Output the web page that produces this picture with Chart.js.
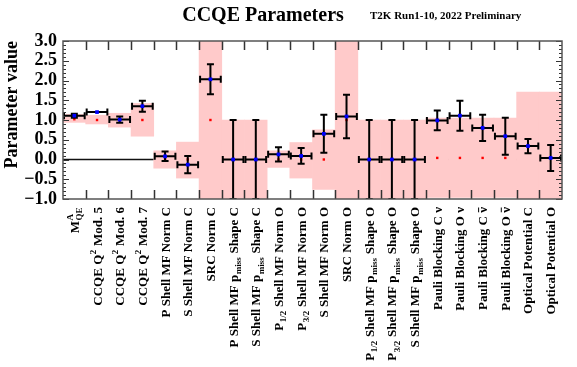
<!DOCTYPE html>
<html>
<head>
<meta charset="utf-8">
<script src="https://cdn.jsdelivr.net/npm/chart.js@4.4.1/dist/chart.umd.min.js"></script>
<style>
  html, body { margin: 0; padding: 0; background: #ffffff; }
  #c { display: block; }
</style>
</head>
<body>
<canvas id="c" width="577" height="367" style="width:577px;height:367px"></canvas>
<script>
// Parameter names (markup: _{..} subscript, ^{..} superscript, #bar{..} overline)
const parameterNames = [
  'M_{QE}^{A}', 'CCQE Q^{2} Mod. 5', 'CCQE Q^{2} Mod. 6', 'CCQE Q^{2} Mod. 7',
  'P Shell MF Norm C', 'S Shell MF Norm C', 'SRC Norm C',
  'P Shell MF p_{miss} Shape C', 'S Shell MF p_{miss} Shape C',
  'P_{1/2} Shell MF Norm O', 'P_{3/2} Shell MF Norm O', 'S Shell MF Norm O', 'SRC Norm O',
  'P_{1/2} Shell MF p_{miss} Shape O', 'P_{3/2} Shell MF p_{miss} Shape O', 'S Shell MF p_{miss} Shape O',
  'Pauli Blocking C ν', 'Pauli Blocking O ν', 'Pauli Blocking C #bar{ν}', 'Pauli Blocking O #bar{ν}',
  'Optical Potential C', 'Optical Potential O'
];

// Post-fit central values and their 1σ errors
const fitValues = [1.11, 1.20, 1.01, 1.35, 0.08, -0.13, 2.03, 0.00, 0.00, 0.13, 0.09, 0.65, 1.09,
                   0.00, 0.00, 0.00, 0.99, 1.11, 0.80, 0.59, 0.34, 0.04];
const fitErrors = [0.05, 0.00, 0.08, 0.14, 0.12, 0.22, 0.38, 1.00, 1.00, 0.18, 0.20, 0.48, 0.55,
                   1.00, 1.00, 1.00, 0.25, 0.38, 0.33, 0.47, 0.18, 0.33];

// Prior nominal values and prior uncertainty band
const priorValues = [1.02, 1.00, 1.00, 1.00, 0.00, 0.00, 1.00, 0.00, 0.00, 0.00, 0.00, 0.00, 1.00,
                     0.00, 0.00, 0.00, 0.04, 0.04, 0.04, 0.04, null, null];
const priorLow  = [0.94, 0.90, 0.82, 0.59, -0.22, -0.47, -1.00, -1.00, -1.00, -0.20, -0.47, -0.76, -1.00,
                   -1.00, -1.00, -1.00, -0.96, -0.96, -0.96, -0.96, -1.00, -1.00];
const priorHigh = [1.14, 1.12, 1.17, 1.42, 0.22, 0.44, 3.00, 1.00, 1.00, 0.22, 0.43, 0.75, 3.00,
                   1.00, 1.00, 1.00, 1.05, 1.05, 1.05, 1.05, 1.71, 1.71];

// Axis range and tick spacing
const yMin = -1.0, yMax = 3.0, yMajorStep = 0.5, yMinorStep = 0.1;

const SERIF = '"Liberation Serif", "Times New Roman", serif';
const BAND_COLOR = '#ffcaca';

function parseRich(label) {
  const segs = [];
  const re = /(_\{[^}]*\}|\^\{[^}]*\}|#bar\{[^}]*\})/g;
  let last = 0, m;
  while ((m = re.exec(label)) !== null) {
    if (m.index > last) segs.push({ t: label.slice(last, m.index), m: 'n' });
    const tok = m[0];
    if (tok[0] === '_') segs.push({ t: tok.slice(2, -1), m: 'sub' });
    else if (tok[0] === '^') segs.push({ t: tok.slice(2, -1), m: 'sup' });
    else segs.push({ t: tok.slice(5, -1), m: 'bar' });
    last = re.lastIndex;
  }
  if (last < label.length) segs.push({ t: label.slice(last), m: 'n' });
  return segs;
}

const MAIN_FONT = 'bold 13px ' + SERIF;
const SMALL_FONT = 'bold 9px ' + SERIF;

function layoutRich(ctx, segs) {
  // returns positioned pieces and total advance
  const pieces = [];
  let cur = 0;
  for (let i = 0; i < segs.length; i++) {
    const s = segs[i];
    const small = (s.m === 'sub' || s.m === 'sup');
    ctx.font = small ? SMALL_FONT : MAIN_FONT;
    const w = ctx.measureText(s.t).width;
    const next = segs[i + 1];
    if (small && next && (next.m === 'sub' || next.m === 'sup') && next.m !== s.m) {
      ctx.font = SMALL_FONT;
      const w2 = ctx.measureText(next.t).width;
      pieces.push({ s, x: cur + 0.5 });
      pieces.push({ s: next, x: cur + 0.5 });
      cur += Math.max(w, w2) + 1;
      i++;
      continue;
    }
    pieces.push({ s, x: cur + (small ? 0.5 : 0) });
    cur += w + (small ? 1 : 0);
  }
  return { pieces, total: cur };
}

function drawRichLabel(ctx, label, cx, yTop) {
  const segs = parseRich(label);
  const { pieces, total } = layoutRich(ctx, segs);
  ctx.save();
  ctx.translate(cx, yTop);
  ctx.rotate(-Math.PI / 2);
  ctx.fillStyle = '#000';
  ctx.strokeStyle = '#000';
  ctx.textAlign = 'left';
  ctx.textBaseline = 'alphabetic';
  const base = 4.5;
  for (const p of pieces) {
    const x0 = -total + p.x;
    if (p.s.m === 'sub') {
      ctx.font = SMALL_FONT;
      ctx.fillText(p.s.t, x0, base + 3.5);
    } else if (p.s.m === 'sup') {
      ctx.font = SMALL_FONT;
      ctx.fillText(p.s.t, x0, base - 6);
    } else {
      ctx.font = MAIN_FONT;
      ctx.fillText(p.s.t, x0, base);
      if (p.s.m === 'bar') {
        const w = ctx.measureText(p.s.t).width;
        ctx.lineWidth = 1;
        ctx.beginPath();
        ctx.moveTo(x0 + 0.5, base - 8.5);
        ctx.lineTo(x0 + w - 0.5, base - 8.5);
        ctx.stroke();
      }
    }
  }
  ctx.restore();
}

function binHalfWidth(x) {
  return (x.getPixelForValue(1) - x.getPixelForValue(0)) / 2;
}

function drawErrorBars(chart) {
  const { ctx, chartArea: a } = chart;
  const x = chart.scales.x, y = chart.scales.y;
  const half = binHalfWidth(x);
  const cap = 3.5;
  ctx.save();
  ctx.beginPath();
  ctx.rect(a.left, a.top, a.right - a.left, a.bottom - a.top);
  ctx.clip();
  ctx.strokeStyle = '#000';
  ctx.lineWidth = 2;
  fitValues.forEach((v, i) => {
    const cx = x.getPixelForValue(i);
    const cy = y.getPixelForValue(v);
    const l = cx - half, r = cx + half;
    ctx.beginPath();
    ctx.moveTo(l, cy); ctx.lineTo(r, cy);
    ctx.moveTo(l + 1, cy - cap); ctx.lineTo(l + 1, cy + cap);
    ctx.moveTo(r - 1, cy - cap); ctx.lineTo(r - 1, cy + cap);
    const e = fitErrors[i];
    if (e > 0) {
      const yt = y.getPixelForValue(v + e);
      const yb = y.getPixelForValue(v - e);
      ctx.moveTo(cx, yt); ctx.lineTo(cx, yb);
      ctx.moveTo(cx - cap, yt); ctx.lineTo(cx + cap, yt);
      ctx.moveTo(cx - cap, yb); ctx.lineTo(cx + cap, yb);
    }
    ctx.stroke();
  });
  ctx.restore();
}

const histPlugin = {
  id: 'histDecor',
  beforeDatasetsDraw(chart) {
    // reference line at zero, underneath the prior bands
    const { ctx, chartArea: a } = chart;
    const y0 = chart.scales.y.getPixelForValue(0);
    ctx.save();
    ctx.strokeStyle = '#111';
    ctx.lineWidth = 1.5;
    ctx.beginPath();
    ctx.moveTo(a.left, y0);
    ctx.lineTo(a.right, y0);
    ctx.stroke();
    ctx.restore();
  },
  afterDatasetDraw(chart, args) {
    if (args.index === 1) drawErrorBars(chart);
  },
  afterDatasetsDraw(chart) {
    const { ctx, chartArea: a } = chart;
    const x = chart.scales.x, y = chart.scales.y;
    const half = binHalfWidth(x);
    ctx.save();
    // x ticks at bin edges, pointing inward
    ctx.strokeStyle = '#333';
    ctx.lineWidth = 1.5;
    ctx.beginPath();
    for (let i = 1; i < parameterNames.length; i++) {
      const px = Math.round(x.getPixelForValue(i) - half) + 0.5;
      ctx.moveTo(px, a.bottom); ctx.lineTo(px, a.bottom - 9);
      ctx.moveTo(px, a.top); ctx.lineTo(px, a.top + 9);
    }
    ctx.stroke();
    // y ticks, major and minor, on both sides
    ctx.lineWidth = 1;
    ctx.beginPath();
    const n = Math.round((yMax - yMin) / yMinorStep);
    for (let k = 0; k <= n; k++) {
      const v = yMin + k * yMinorStep;
      const py = Math.round(y.getPixelForValue(v)) + 0.5;
      const major = Math.abs(v / yMajorStep - Math.round(v / yMajorStep)) < 1e-6;
      const len = major ? 6 : 3;
      ctx.moveTo(a.left, py); ctx.lineTo(a.left + len, py);
      ctx.moveTo(a.right, py); ctx.lineTo(a.right - len, py);
    }
    ctx.stroke();
    // frame
    ctx.strokeStyle = '#555';
    ctx.lineWidth = 1.5;
    ctx.strokeRect(a.left, a.top, a.right - a.left, a.bottom - a.top);
    ctx.restore();
  },
  afterDraw(chart) {
    const { ctx, chartArea: a } = chart;
    const x = chart.scales.x;
    parameterNames.forEach((name, i) => {
      drawRichLabel(ctx, name, x.getPixelForValue(i), a.bottom + 8);
    });
    ctx.save();
    ctx.fillStyle = '#000';
    ctx.textBaseline = 'alphabetic';
    ctx.textAlign = 'center';
    ctx.font = 'bold 20px ' + SERIF;
    ctx.fillText('CCQE Parameters', 263, 21);
    ctx.textAlign = 'left';
    ctx.font = 'bold 11px ' + SERIF;
    ctx.fillText('T2K Run1-10, 2022 Preliminary', 370, 19);
    ctx.restore();
  }
};

new Chart(document.getElementById('c'), {
  data: {
    labels: parameterNames,
    datasets: [
      {
        type: 'bar',
        data: priorLow.map((lo, i) => [lo, priorHigh[i]]),
        backgroundColor: BAND_COLOR,
        borderWidth: 0,
        barPercentage: 1.0,
        categoryPercentage: 1.0,
        order: 3
      },
      {
        type: 'line',
        data: priorValues,
        showLine: false,
        pointStyle: 'rect',
        pointRadius: 1.7,
        pointBackgroundColor: '#ff0000',
        pointBorderWidth: 0,
        order: 2
      },
      {
        type: 'line',
        data: fitValues,
        showLine: false,
        pointStyle: 'rect',
        pointRadius: 2.6,
        pointBackgroundColor: '#0000ff',
        pointBorderWidth: 0,
        order: 1
      }
    ]
  },
  options: {
    responsive: false,
    animation: false,
    events: [],
    layout: { padding: { top: 41, right: 15, left: 0, bottom: 0 } },
    plugins: { legend: { display: false }, tooltip: { enabled: false }, title: { display: false } },
    scales: {
      x: {
        type: 'category',
        offset: true,
        grid: { display: false, drawTicks: false },
        border: { display: false },
        ticks: { display: false },
        afterFit(scale) { scale.height = 168; }
      },
      y: {
        type: 'linear',
        min: yMin,
        max: yMax,
        grid: { display: false, drawTicks: false },
        border: { display: false },
        ticks: {
          stepSize: yMajorStep,
          autoSkip: false,
          padding: 6,
          color: '#000',
          font: { family: SERIF, size: 18, weight: 'bold' },
          callback: (v) => (v < 0 ? '\u2212' : '') + Math.abs(v).toFixed(1)
        },
        title: {
          display: true,
          text: 'Parameter value',
          align: 'end',
          color: '#000',
          padding: { top: 2, bottom: 0 },
          font: { family: SERIF, size: 18, weight: 'bold' }
        },
        afterFit(scale) { scale.width = 63; }
      }
    }
  },
  plugins: [histPlugin]
});
</script>
</body>
</html>
